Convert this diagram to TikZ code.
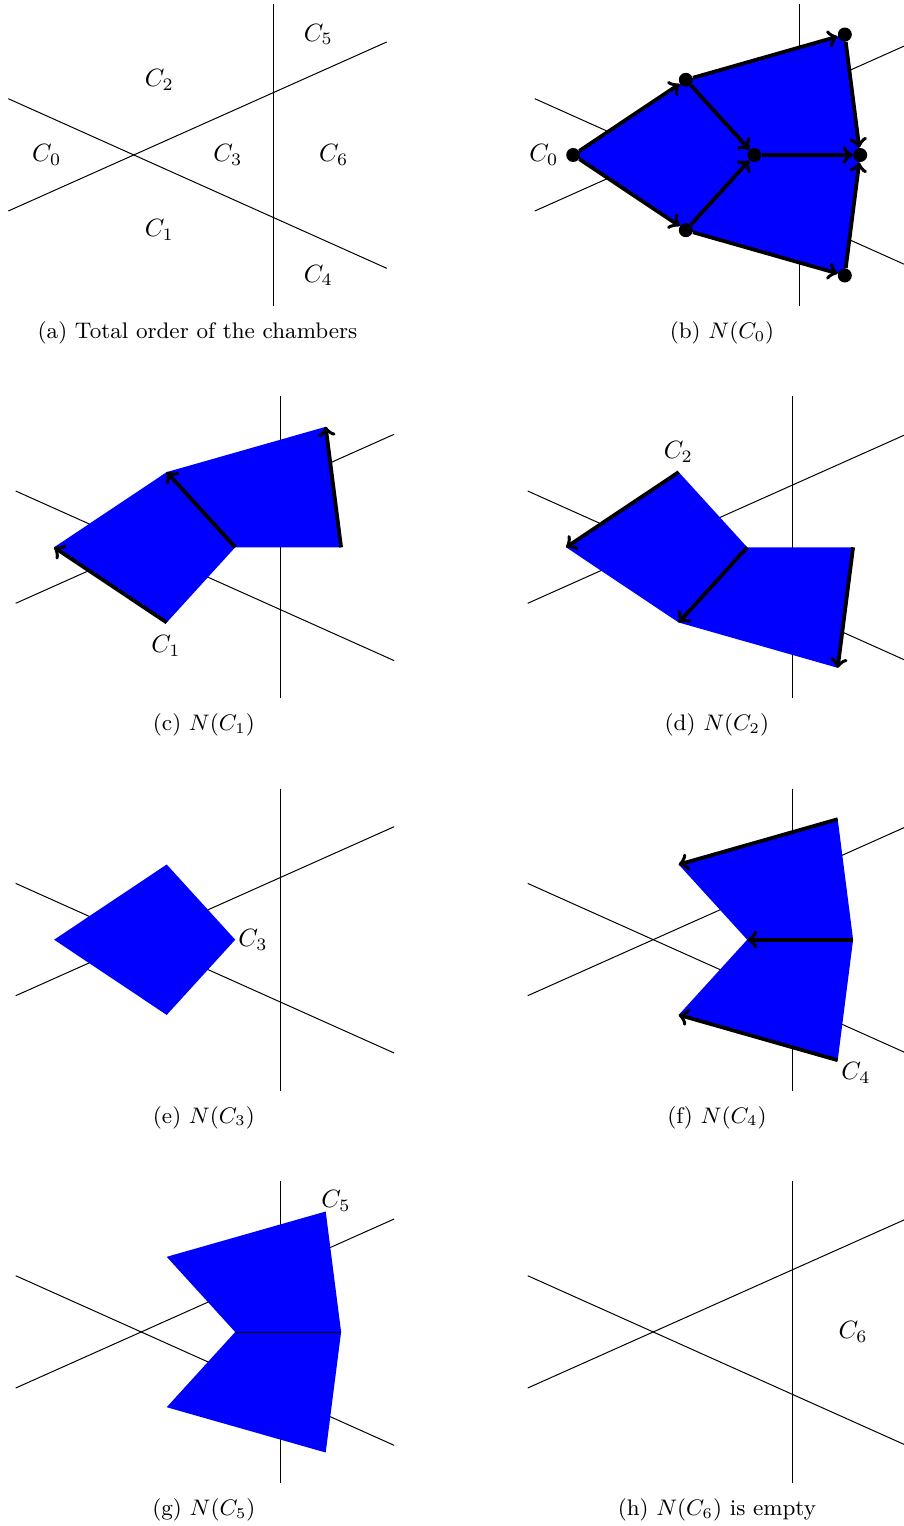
\documentclass[tikz,border=0pt]{standalone}
\tikzset{
  hyp/.style={black, line width=0.4pt},
  chamber/.style={fill=blue, draw=none},
  edgearrow/.style={->, line width=1.5pt, black},
  vertexdot/.style={circle, fill=black, inner sep=0pt, minimum size=5.6pt},
  capnode/.style={font=\small, inner sep=0pt},
  chlabel/.style={inner sep=0pt},
}
\newcommand{\drawhyps}[1]{%
  \coordinate (#1vt) at (273.3,4); \coordinate (#1vb) at (273.3,306);
  \coordinate (#1dl) at (8.3,98.7); \coordinate (#1dr) at (386.7,268.3);
  \coordinate (#1al) at (8.3,211); \coordinate (#1ar) at (386.7,42);
  \draw[hyp] (#1vt) -- (#1vb);
  \draw[hyp] (#1dl) -- (#1dr);
  \draw[hyp] (#1al) -- (#1ar);
}
\newcommand{\setverts}[1]{%
  \coordinate (#10) at (46.7,155);
  \coordinate (#11) at (159.3,230.2);
  \coordinate (#12) at (159.3,79.8);
  \coordinate (#13) at (227.8,155);
  \coordinate (#14) at (318.3,275.5);
  \coordinate (#15) at (318.3,34.5);
  \coordinate (#16) at (333.7,155);
}
\begin{document}
\begin{tikzpicture}[x=0.4pt,y=-0.4pt]
\useasboundingbox (0,0) rectangle (904,1526);
\clip (0,0) rectangle (904,1526);

% (a)
\begin{scope}
  \drawhyps{a}
  \setverts{a}
  \node[chlabel] (la0) at (a0) {$C_0$};
  \node[chlabel] (la1) at (a1) {$C_1$};
  \node[chlabel] (la2) at (a2) {$C_2$};
  \node[chlabel] (la3) at (a3) {$C_3$};
  \node[chlabel] (la4) at (a4) {$C_4$};
  \node[chlabel] (la5) at (a5) {$C_5$};
  \node[chlabel] (la6) at (a6) {$C_6$};
  \node[capnode] (capa) at (197.5,333) {(a) Total order of the chambers};
\end{scope}

% (b)
\begin{scope}[shift={(526.5,0)}]
  \drawhyps{b}
  \setverts{p}
  \fill[chamber] (p0) -- (p2) -- (p5) -- (p6) -- (p4) -- (p1) -- cycle;
  \node[vertexdot] (b0) at (p0) {};
  \node[vertexdot] (b1) at (p1) {};
  \node[vertexdot] (b2) at (p2) {};
  \node[vertexdot] (b3) at (p3) {};
  \node[vertexdot] (b4) at (p4) {};
  \node[vertexdot] (b5) at (p5) {};
  \node[vertexdot] (b6) at (p6) {};
  \node[left, inner sep=2.7pt] (lb0) at (b0.west) {$C_0$};
  \draw[edgearrow] (b0) -- (b2);
  \draw[edgearrow] (b0) -- (b1);
  \draw[edgearrow] (b2) -- (b3);
  \draw[edgearrow] (b1) -- (b3);
  \draw[edgearrow] (b2) -- (b5);
  \draw[edgearrow] (b1) -- (b4);
  \draw[edgearrow] (b3) -- (b6);
  \draw[edgearrow] (b5) -- (b6);
  \draw[edgearrow] (b4) -- (b6);
  \node[capnode] (capb) at (195.5,333) {(b) $N(C_0)$};
\end{scope}

% (c)
\begin{scope}[shift={(7.4,392.3)}]
  \drawhyps{c}
  \setverts{c}
  \fill[chamber] (c1) -- (c0) -- (c2) -- (c5) -- (c6) -- (c3) -- cycle;
  \draw[edgearrow] (c1) -- (c0);
  \draw[edgearrow] (c3) -- (c2);
  \draw[edgearrow] (c6) -- (c5);
  \node[chlabel] (lc1) at (158.6,253.5) {$C_1$};
  \node[capnode] (capc) at (196.5,333) {(c) $N(C_1)$};
\end{scope}

% (d)
\begin{scope}[shift={(519.4,392.3)}]
  \drawhyps{d}
  \setverts{d}
  \fill[chamber] (d2) -- (d0) -- (d1) -- (d4) -- (d6) -- (d3) -- cycle;
  \draw[edgearrow] (d2) -- (d0);
  \draw[edgearrow] (d3) -- (d1);
  \draw[edgearrow] (d6) -- (d4);
  \node[chlabel] (ld2) at (158.9,59.4) {$C_2$};
  \node[capnode] (capd) at (197.5,333) {(d) $N(C_2)$};
\end{scope}

% (e)
\begin{scope}[shift={(7.4,784.7)}]
  \drawhyps{e}
  \setverts{e}
  \fill[chamber] (e0) -- (e2) -- (e3) -- (e1) -- cycle;
  \node[chlabel] (le3) at (245.6,155) {$C_3$};
  \node[capnode] (cape) at (196.5,333) {(e) $N(C_3)$};
\end{scope}

% (f)
\begin{scope}[shift={(519.4,784.7)}]
  \drawhyps{f}
  \setverts{f}
  \fill[chamber] (f5) -- (f2) -- (f3) -- (f1) -- (f4) -- (f6) -- cycle;
  \draw[edgearrow] (f5) -- (f2);
  \draw[edgearrow] (f6) -- (f3);
  \draw[edgearrow] (f4) -- (f1);
  \node[chlabel] (lf4) at (336.6,288.3) {$C_4$};
  \node[capnode] (capf) at (197.5,333) {(f) $N(C_4)$};
\end{scope}

% (g)
\begin{scope}[shift={(7.4,1177)}]
  \drawhyps{g}
  \setverts{g}
  \fill[chamber] (g5) -- (g2) -- (g3) -- (g1) -- (g4) -- (g6) -- cycle;
  \draw[hyp] (g3) -- (g6);
  \node[chlabel] (lg5) at (328.6,24) {$C_5$};
  \node[capnode] (capg) at (196.5,333) {(g) $N(C_5)$};
\end{scope}

% (h)
\begin{scope}[shift={(519.4,1177)}]
  \drawhyps{h}
  \setverts{h}
  \node[chlabel] (lh6) at (h6) {$C_6$};
  \node[capnode] (caph) at (197.5,333) {(h) $N(C_6)$ is empty};
\end{scope}
\end{tikzpicture}
\end{document}
